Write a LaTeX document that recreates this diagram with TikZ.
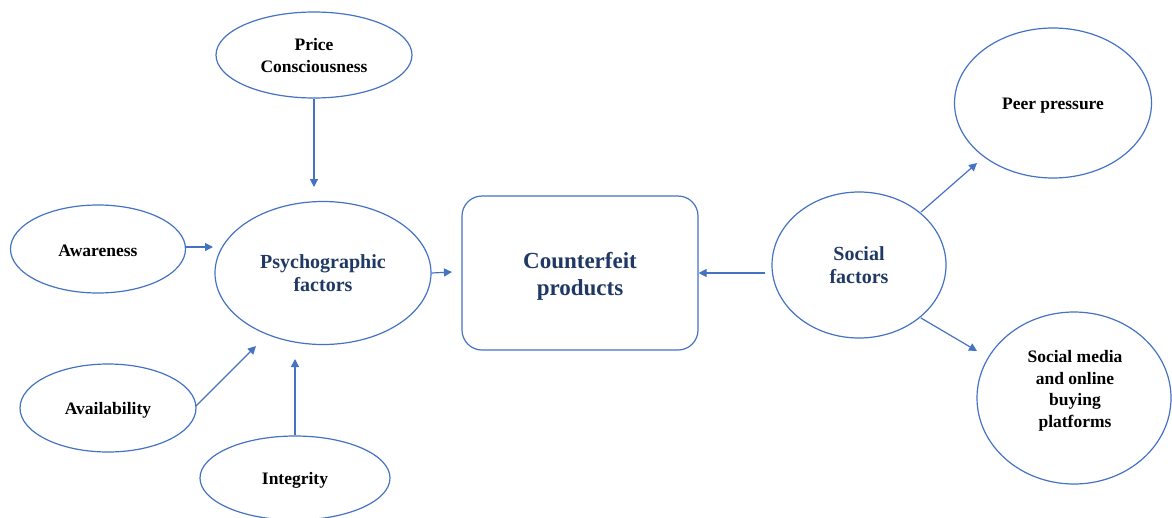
\documentclass[tikz,border=0pt]{standalone}
\usepackage{fontspec}
\setmainfont{Liberation Serif}
\usetikzlibrary{arrows.meta,calc,shapes.geometric}
\definecolor{lineblue}{HTML}{4472C4}
\definecolor{navy}{HTML}{1F3864}
\tikzset{
  oval/.style={ellipse, draw=lineblue, line width=1.2pt, inner sep=0pt},
  smalltxt/.style={font=\fontsize{17.5}{22}\selectfont\bfseries, text=black, align=center},
  bigtxt/.style={font=\fontsize{20}{23}\selectfont\bfseries, text=navy, align=center},
  conn/.style={draw=lineblue, line width=1.2pt, -{Triangle[length=8pt,width=8pt]}},
}
\begin{document}
\begin{tikzpicture}[x=1pt,y=-1pt]
\useasboundingbox (0,0) rectangle (1172,517);
% shapes
\node[oval, minimum width=196pt, minimum height=86pt] (price) at (314,55) {};
\node[oval, minimum width=175pt, minimum height=88pt] (aware) at (98,249) {};
\node[oval, minimum width=216pt, minimum height=143pt] (psych) at (323,273) {};
\node[oval, minimum width=176pt, minimum height=88pt] (avail) at (108,408) {};
\node[oval, minimum width=190pt, minimum height=84pt] (integ) at (295,478) {};
\node[draw=lineblue, line width=1.2pt, rounded corners=20pt, minimum width=236pt, minimum height=154pt] (cf) at (580,273) {};
\node[oval, minimum width=174pt, minimum height=146pt] (social) at (859,265) {};
\node[oval, minimum width=197pt, minimum height=150pt] (peer) at (1053,103) {};
\node[oval, minimum width=194pt, minimum height=172pt] (media) at (1074,398) {};
% texts
\node[smalltxt] (tprice) at ($(price)+(0,1)$) {Price\\Consciousness};
\node[smalltxt] (taware) at ($(aware)+(0,1.5)$) {Awareness};
\node[bigtxt] (tpsych) at ($(psych)+(0,0.5)$) {Psychographic\\factors};
\node[smalltxt] (tavail) at ($(avail)+(0,2)$) {Availability};
\node[smalltxt] (tinteg) at ($(integ)+(0,2)$) {Integrity};
\node[bigtxt, font=\fontsize{23}{27}\selectfont\bfseries] (tcf) at ($(cf)+(0,3)$) {Counterfeit\\products};
\node[bigtxt] (tsocial) at (social) {Social\\factors};
\node[smalltxt] (tpeer) at ($(peer)+(0,3)$) {Peer pressure};
\node[smalltxt, font=\fontsize{17.5}{21.5}\selectfont\bfseries] (tmedia) at ($(media)+(1,-7)$) {Social media\\and online\\buying\\platforms};
% free ends
\coordinate (pricein) at (314,187);
\coordinate (awarein) at (213,247);
\coordinate (psychout) at (452,272);
\coordinate (availin) at (256,346);
\coordinate (integin) at (295,359);
\coordinate (socout) at (765,273);
\coordinate (socA) at (921,212);
\coordinate (peerin) at (977,163);
\coordinate (socB) at (921,318);
\coordinate (mediain) at (977,351);
\coordinate (availout) at (196,406);
\coordinate (awareout) at (186,247);
% connectors
\draw[conn] (price.south) -- (pricein);
\draw[conn] (awareout) -- (awarein);
\draw[conn] (psych.east) -- (psychout);
\draw[conn] (availout) -- (availin);
\draw[conn] (integ.north) -- (integin);
\draw[conn] (socout) -- (cf.east);
\draw[conn] (socA) -- (peerin);
\draw[conn] (socB) -- (mediain);
\end{tikzpicture}
\end{document}
